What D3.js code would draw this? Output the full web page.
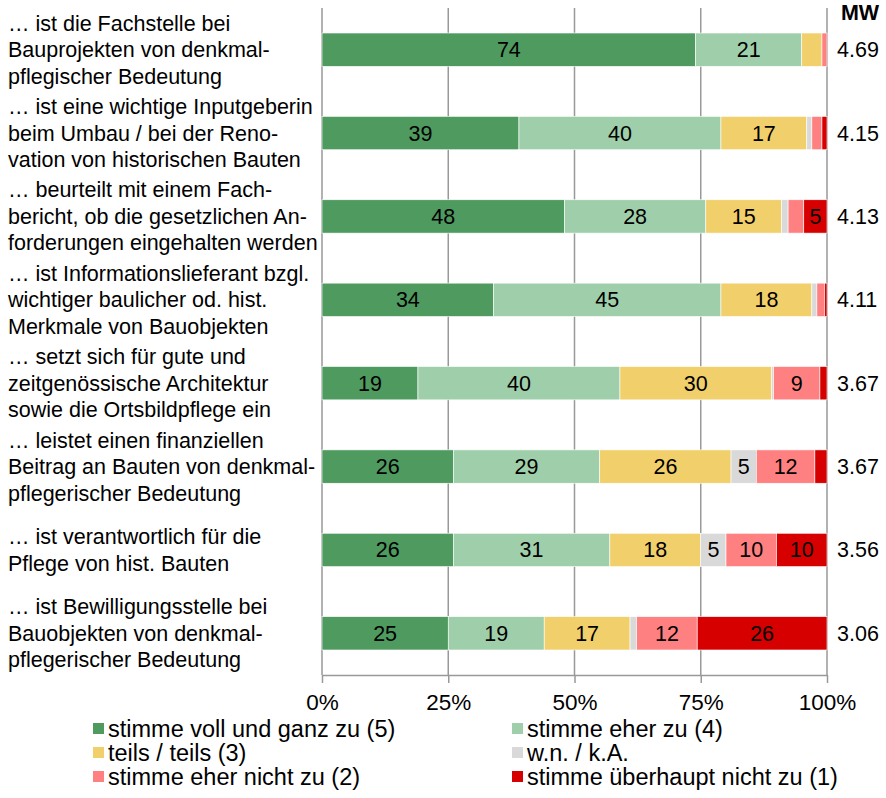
<!DOCTYPE html>
<html>
<head>
<meta charset="utf-8">
<script src="https://cdn.jsdelivr.net/npm/d3@7"></script>
<style>
  body { margin: 0; background: #fff; }
  text { font-family: "Liberation Sans", Arial, sans-serif; }
</style>
</head>
<body>
<div class="chart"></div>
<script>
// categories (multi-line labels)
const categories = [
  ['… ist die Fachstelle bei', 'Bauprojekten von denkmal-', 'pflegischer Bedeutung'],
  ['… ist eine wichtige Inputgeberin', 'beim Umbau / bei der Reno-', 'vation von historischen Bauten'],
  ['… beurteilt mit einem Fach-', 'bericht, ob die gesetzlichen An-', 'forderungen eingehalten werden'],
  ['… ist Informationslieferant bzgl.', 'wichtiger baulicher od. hist.', 'Merkmale von Bauobjekten'],
  ['… setzt sich für gute und', 'zeitgenössische Architektur', 'sowie die Ortsbildpflege ein'],
  ['… leistet einen finanziellen', 'Beitrag an Bauten von denkmal-', 'pflegerischer Bedeutung'],
  ['… ist verantwortlich für die', 'Pflege von hist. Bauten'],
  ['… ist Bewilligungsstelle bei', 'Bauobjekten von denkmal-', 'pflegerischer Bedeutung']
];

// series values in percent
const vollUndGanz = [74, 39, 48, 34, 19, 26, 26, 25];
const eherZu = [21, 40, 28, 45, 40, 29, 31, 19];
const teilsTeils = [4, 17, 15, 18, 30, 26, 18, 17];
const wnKa = [0, 1, 1.3, 1, 0.4, 5, 5, 1.3];
const eherNicht = [1, 2, 3.1, 1.5, 9.2, 11.6, 10, 12];
const ueberhauptNicht = [0, 1, 4.6, 0.5, 1.4, 2.4, 10, 25.7];

// mean values
const mw = ['4.69', '4.15', '4.13', '4.11', '3.67', '3.67', '3.56', '3.06'];

const ticks = [0, 25, 50, 75, 100];

const seriesNames = [
  'stimme voll und ganz zu (5)',
  'stimme eher zu (4)',
  'teils / teils (3)',
  'w.n. / k.A.',
  'stimme eher nicht zu (2)',
  'stimme überhaupt nicht zu (1)'
];
const seriesColors = ['#4e9a5f', '#9fcfaa', '#f1cf6b', '#d9d9d9', '#ff8080', '#d60000'];

const width = 886;
const height = 798;
const margin = { top: 8, left: 322, right: 59, bottom: 123 };

const keys = ['s0', 's1', 's2', 's3', 's4', 's5'];
const seriesData = [vollUndGanz, eherZu, teilsTeils, wnKa, eherNicht, ueberhauptNicht];
const rows = categories.map((c, i) => {
  const r = { id: i };
  keys.forEach((k, j) => { r[k] = seriesData[j][i]; });
  return r;
});

const svg = d3
  .select('.chart')
  .append('svg')
  .attr('width', width)
  .attr('height', height);

const x = d3
  .scaleLinear()
  .domain([0, 100])
  .range([margin.left, width - margin.right]);

const y = d3
  .scaleBand()
  .domain(rows.map((d) => d.id))
  .range([margin.top, height - margin.bottom])
  .paddingInner(0.6)
  .paddingOuter(0.3);

const color = d3.scaleOrdinal().domain(keys).range(seriesColors);

// gridlines
svg
  .append('g')
  .selectAll('line')
  .data(ticks)
  .enter()
  .append('line')
  .attr('x1', (d) => x(d))
  .attr('x2', (d) => x(d))
  .attr('y1', margin.top)
  .attr('y2', height - margin.bottom)
  .attr('stroke', '#999')
  .attr('stroke-width', 1.5);

// x axis
const xAxis = svg
  .append('g')
  .attr('transform', `translate(0, ${height - margin.bottom})`)
  .call(
    d3.axisBottom(x)
      .tickValues(ticks)
      .tickFormat((d) => d + '%')
      .tickSize(8)
      .tickSizeOuter(0)
      .tickPadding(11)
  );
xAxis.select('.domain').attr('stroke', '#999').attr('stroke-width', 1.5);
xAxis.selectAll('.tick line').attr('stroke', '#999').attr('stroke-width', 1.5);
xAxis.selectAll('.tick text')
  .attr('font-size', '22.5px')
  .attr('fill', '#000')
  .style('font-family', '"Liberation Sans", Arial, sans-serif');

// stacked bars
const stack = d3.stack().keys(keys);
const layers = stack(rows);

svg
  .append('g')
  .selectAll('g')
  .data(layers)
  .enter()
  .append('g')
  .attr('fill', (d) => color(d.key))
  .selectAll('rect')
  .data((d) => d)
  .enter()
  .append('rect')
  .attr('x', (d) => x(d[0]))
  .attr('y', (d) => y(d.data.id))
  .attr('width', (d) => x(d[1]) - x(d[0]))
  .attr('height', y.bandwidth())
  .attr('stroke', '#fff')
  .attr('stroke-width', (d) => (d[1] - d[0] > 0 ? 0.6 : 0));

// value labels
svg
  .append('g')
  .selectAll('g')
  .data(layers)
  .enter()
  .append('g')
  .selectAll('text')
  .data((d) => d.filter((v) => v[1] - v[0] >= 4.5))
  .enter()
  .append('text')
  .attr('x', (d) => (x(d[0]) + x(d[1])) / 2)
  .attr('y', (d) => y(d.data.id) + y.bandwidth() / 2)
  .attr('dy', '0.35em')
  .attr('text-anchor', 'middle')
  .attr('font-size', '21.5px')
  .text((d) => Math.round(d[1] - d[0]));

// category labels
const lineH = 26.5;
const labels = svg
  .append('g')
  .selectAll('text')
  .data(categories)
  .enter()
  .append('text')
  .attr('font-size', '21.5px')
  .attr('fill', '#000');
labels
  .selectAll('tspan')
  .data((d, i) => d.map((t, j) => ({ t, j, n: d.length, i })))
  .enter()
  .append('tspan')
  .attr('x', 8)
  .attr('y', (d) => y(d.i) + y.bandwidth() / 2 + (d.j - (d.n - 1) / 2) * lineH)
  .attr('dy', '0.35em')
  .text((d) => d.t);

// MW values
svg
  .append('text')
  .attr('x', 860)
  .attr('y', 20)
  .attr('text-anchor', 'middle')
  .attr('font-size', '21.5px')
  .attr('font-weight', 'bold')
  .text('MW');

svg
  .append('g')
  .selectAll('text')
  .data(mw)
  .enter()
  .append('text')
  .attr('x', 837)
  .attr('y', (d, i) => y(i) + y.bandwidth() / 2)
  .attr('dy', '0.35em')
  .attr('font-size', '21.5px')
  .text((d) => d);

// legend
const legend = svg
  .append('g')
  .selectAll('g')
  .data(seriesNames)
  .enter()
  .append('g')
  .attr('transform', (d, i) => `translate(${i % 2 === 0 ? 93 : 512}, ${729 + Math.floor(i / 2) * 24})`);

legend
  .append('rect')
  .attr('x', 0)
  .attr('y', -6)
  .attr('width', 11)
  .attr('height', 11)
  .attr('fill', (d, i) => seriesColors[i]);

legend
  .append('text')
  .attr('x', 15)
  .attr('y', 0)
  .attr('dy', '0.35em')
  .attr('font-size', '23.5px')
  .text((d) => d);
</script>
</body>
</html>
